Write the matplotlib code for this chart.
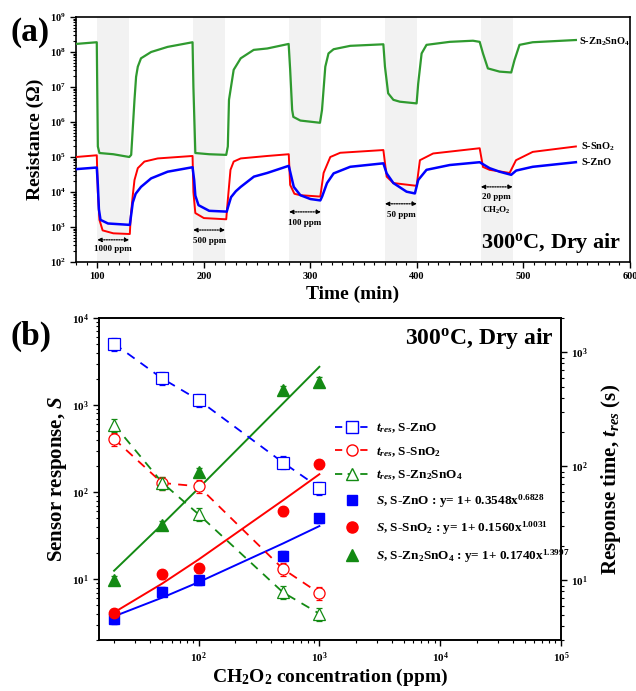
import matplotlib
matplotlib.use('Agg')
import matplotlib.pyplot as plt
import numpy as np
from matplotlib.lines import Line2D
from matplotlib.ticker import LogLocator, MultipleLocator, LogFormatterMathtext, NullFormatter

plt.rcParams['font.family'] = ['Liberation Serif', 'DejaVu Serif']
plt.rcParams['font.weight'] = 'bold'
plt.rcParams['axes.labelweight'] = 'bold'
plt.rcParams['mathtext.fontset'] = 'custom'
plt.rcParams['mathtext.rm'] = 'Liberation Serif:bold'
plt.rcParams['mathtext.it'] = 'Liberation Serif:italic:bold'
plt.rcParams['mathtext.bf'] = 'Liberation Serif:bold'

# ---- panel (a): resistance transients ----
gas_bands = [(100, 130), (190, 220), (280, 310), (370, 400), (460, 490)]
band_labels = ['1000 ppm', '500 ppm', '100 ppm', '50 ppm', '20 ppm']

t_zn2sno4 = [80, 90, 99.5, 100.5, 102, 115, 130, 131.8, 134.9, 136.4, 138, 141, 150.5, 166, 189.4,
             190.2, 192, 205, 221, 222.5, 223.6, 228, 234.6, 246.8, 259.5, 279.6,
             281, 282.9, 284, 290.6, 309, 310.9, 314, 317, 321.8, 337.4, 368.5,
             370, 373, 377.9, 384, 399.7, 401.2, 404.4, 409, 430.8, 452.6, 458.9,
             462, 466.6, 477.6, 488.5, 491.6, 496.3, 508.7, 549.2]
r_zn2sno4 = [1.7e8, 1.8e8, 1.9e8, 2.0e5, 1.3e5, 1.2e5, 1.0e5, 1.15e5, 4.3e6, 1.95e7, 3.8e7, 6.6e7, 1.0e8, 1.4e8, 1.9e8,
             1.0e7, 1.3e5, 1.2e5, 1.15e5, 2.0e5, 4.3e6, 3.1e7, 6.6e7, 1.15e8, 1.26e8, 1.7e8,
             3.2e7, 2.2e6, 1.4e6, 1.1e6, 9.5e5, 2.2e6, 3.8e7, 9.1e7, 1.2e8, 1.5e8, 1.66e8,
             3.8e7, 6.6e6, 4.3e6, 3.8e6, 3.4e6, 1.26e7, 9.1e7, 1.6e8, 1.95e8, 2.1e8, 1.95e8,
             9.1e7, 3.4e7, 2.75e7, 2.6e7, 5.9e7, 1.6e8, 1.9e8, 2.2e8]

t_sno2 = [80, 99.5, 100.5, 102, 105, 115, 130.5, 131.4, 133.3, 134.9, 138, 144.2, 156.7, 189.4,
          190.2, 192, 200, 221, 222, 225, 228, 234.6, 259.5, 279.7,
          281, 285, 290.6, 309.3, 312.4, 318.7, 328, 368.5,
          371.6, 377.9, 399.7, 402.8, 415.2, 458.9,
          462, 468.2, 487, 493, 508.7, 549.2]
r_sno2 = [1.0e5, 1.12e5, 1.0e4, 1.6e3, 800, 660, 630, 2.0e3, 8.1e3, 2.2e4, 4.8e4, 7.4e4, 9.1e4, 1.07e5,
          1.0e4, 2.5e3, 1.8e3, 1.66e3, 4.0e3, 4.3e4, 7.4e4, 9.1e4, 1.07e5, 1.2e5,
          1.6e4, 8.9e3, 8.1e3, 7.4e3, 3.5e4, 1.0e5, 1.32e5, 1.58e5,
          2.75e4, 1.8e4, 1.5e4, 8.1e4, 1.26e5, 1.78e5,
          5.2e4, 4.3e4, 3.5e4, 8.1e4, 1.4e5, 2.0e5]

t_zno = [80, 99.5, 100.5, 101.5, 103, 110, 130.5, 132, 133.3, 136, 141, 150.5, 166, 189.4,
         190.9, 192, 195, 205, 221.5, 223, 225.5, 230, 234.6, 247, 259.5, 279.7,
         284.4, 290.6, 300, 309.3, 311, 315.6, 321.8, 337.4, 368.5,
         371.6, 377.9, 390.3, 398.1, 401.2, 409, 430.8, 458.9,
         468.2, 477.6, 488.5, 493.2, 508.7, 549.2]
r_zno = [4.5e4, 5.0e4, 1.6e4, 3.2e3, 1.6e3, 1.26e3, 1.15e3, 2.5e3, 5.0e3, 8.9e3, 1.4e4, 2.45e4, 3.8e4, 5.1e4,
         2.2e4, 7.9e3, 4.2e3, 2.9e3, 2.75e3, 4.0e3, 7.1e3, 1.05e4, 1.4e4, 2.75e4, 3.5e4, 5.6e4,
         1.4e4, 8.1e3, 6.3e3, 5.75e3, 7.4e3, 1.8e4, 3.4e4, 5.25e4, 6.6e4,
         3.4e4, 1.8e4, 1.02e4, 9.1e3, 2.2e4, 4.3e4, 5.9e4, 7.1e4,
         4.8e4, 3.8e4, 3.1e4, 4.1e4, 5.25e4, 7.1e4]

# ---- panel (b): response and response time ----
conc = [20, 50, 100, 500, 1000]
s_zno = [3.5, 7.2, 9.8, 18.6, 50]
s_sno2 = [4.1, 11.5, 13.4, 61, 209]
s_zn2sno4 = [9.8, 42, 170, 1490, 1860]
fit_zno = [3.74, 6.13, 9.23, 25.7, 40.7]
fit_sno2 = [4.15, 8.9, 16.8, 80.5, 160.4]
fit_zn2sno4 = [12.5, 42.6, 110.6, 1044, 2750]
tres_zno = [1190, 590, 382, 108, 65]
tres_sno2 = [174, 71.5, 66.8, 12.6, 7.7]
tres_zn2sno4 = [232, 72, 38, 7.85, 5.1]

blue = '#0000ff'
red = '#ff0000'
green = '#138a13'
green_trace = '#2f9a2f'

fig = plt.figure(figsize=(6.36, 6.91), dpi=100)
W, H = 636, 691
ax1 = fig.add_axes([76 / W, 1 - 262 / H, (630 - 76) / W, (262 - 17) / H])

for a, b in gas_bands:
    ax1.axvspan(a, b, color='#f2f2f2', lw=0, zorder=0)

ax1.plot(t_zn2sno4, r_zn2sno4, color=green_trace, lw=1.6, zorder=3)
ax1.plot(t_sno2, r_sno2, color=red, lw=1.4, zorder=3)
ax1.plot(t_zno, r_zno, color=blue, lw=1.8, zorder=4)

ax1.set_yscale('log')
ax1.set_xlim(80, 600)
ax1.set_ylim(1e2, 1e9)
ax1.xaxis.set_major_locator(MultipleLocator(100))
ax1.xaxis.set_minor_locator(MultipleLocator(10))
ax1.yaxis.set_major_locator(LogLocator(base=10, numticks=20))
ax1.yaxis.set_minor_locator(LogLocator(base=10, subs=np.arange(2, 10), numticks=20))
ax1.yaxis.set_major_formatter(LogFormatterMathtext())
ax1.yaxis.set_minor_formatter(NullFormatter())
ax1.tick_params(axis='both', which='major', labelsize=7.5, length=4, width=1)
ax1.tick_params(axis='both', which='minor', length=2, width=0.8)
for sp in ax1.spines.values():
    sp.set_linewidth(1.2)
ax1.set_ylabel('Resistance (Ω)', fontsize=14, labelpad=4)
ax1.set_xlabel('Time (min)', fontsize=14, labelpad=3)

arrow_y = [430, 820, 2.7e3, 4.6e3, 1.4e4]
text_y = [235, 400, 1.3e3, 2.2e3, 7.2e3]
for (a, b), lab, ay, ty in zip(gas_bands, band_labels, arrow_y, text_y):
    ax1.annotate('', xy=(b, ay), xytext=(a, ay),
                 arrowprops=dict(arrowstyle='<|-|>', ls=(0, (1, 1)), lw=0.9, color='black',
                                 mutation_scale=6, shrinkA=0, shrinkB=0))
    ax1.text((a + b) / 2, ty, lab, ha='center', va='center', fontsize=6.5)
ax1.text(475, 2.9e3, r'CH$_2$O$_2$', ha='center', va='center', fontsize=6.5)

ax1.text(552, 1.95e8, r'S-Zn$_2$SnO$_4$', fontsize=7.5, va='center')
ax1.text(554, 2.0e5, r'S-SnO$_2$', fontsize=7.5, va='center')
ax1.text(554, 6.8e4, 'S-ZnO', fontsize=7.5, va='center')
ax1.text(0.985, 0.03, r'300$^{\mathrm{o}}$C, Dry air', transform=ax1.transAxes,
         ha='right', va='bottom', fontsize=16)

fig.text(10 / W, 1 - 33 / H, '(a)', fontsize=24, va='center', ha='left')
fig.text(10 / W, 1 - 336 / H, '(b)', fontsize=24, va='center', ha='left')

# ---- panel (b) ----
ax2 = fig.add_axes([99 / W, 1 - 640 / H, (561 - 99) / W, (640 - 318) / H])
ax2r = ax2.twinx()

for s, fit, c, m, ms in [(s_zno, fit_zno, blue, 's', 6.5),
                         (s_sno2, fit_sno2, red, 'o', 7.5),
                         (s_zn2sno4, fit_zn2sno4, green, '^', 8)]:
    ax2.plot(conc, fit, color=c, lw=1.4, zorder=2)
    ax2.errorbar(conc, s, yerr=[v * 0.12 for v in s], fmt=m, color=c, ms=ms,
                 capsize=2.5, elinewidth=0.8, zorder=3)

for tr, c, m in [(tres_zno, blue, 's'), (tres_sno2, red, 'o'), (tres_zn2sno4, green, '^')]:
    ax2r.plot(conc, tr, ls=(0, (5, 4)), color=c, lw=1.3, zorder=2)
    ax2r.errorbar(conc, tr, yerr=[v * 0.13 for v in tr], fmt=m, color=c, mfc='white',
                  mec=c, ms=8, mew=0.9, capsize=2.5, elinewidth=0.8, zorder=3)

ax2.set_xscale('log')
ax2.set_yscale('log')
ax2r.set_yscale('log')
ax2.set_xlim(15, 1e5)
ax2.set_ylim(2, 1e4)
ax2r.set_ylim(3, 2000)
for ax in (ax2, ax2r):
    ax.tick_params(axis='both', which='major', labelsize=8, length=4, width=1)
    ax.tick_params(axis='both', which='minor', length=2, width=0.8)
    for sp in ax.spines.values():
        sp.set_linewidth(1.2)
ax2.yaxis.set_major_formatter(LogFormatterMathtext())
ax2r.yaxis.set_major_formatter(LogFormatterMathtext())
ax2.set_xlabel(r'CH$_2$O$_2$ concentration (ppm)', fontsize=14, labelpad=1)
ax2.set_ylabel(r'Sensor response, $S$', fontsize=15, labelpad=2)
ax2r.set_ylabel(r'Response time, $t_{res}$ (s)', fontsize=15, labelpad=8)
ax2.text(0.985, 0.975, r'300$^{\mathrm{o}}$C, Dry air', transform=ax2.transAxes,
         ha='right', va='top', fontsize=17)

handles = [
    Line2D([], [], color=blue, ls=(0, (4, 3)), marker='s', mfc='white', mec=blue, ms=8, lw=1.3),
    Line2D([], [], color=red, ls=(0, (4, 3)), marker='o', mfc='white', mec=red, ms=8, lw=1.3),
    Line2D([], [], color=green, ls=(0, (4, 3)), marker='^', mfc='white', mec=green, ms=8, lw=1.3),
    Line2D([], [], color=blue, ls='none', marker='s', ms=7),
    Line2D([], [], color=red, ls='none', marker='o', ms=8),
    Line2D([], [], color=green, ls='none', marker='^', ms=8),
]
labels = [r'$t_{res}$, S-ZnO', r'$t_{res}$, S-SnO$_2$', r'$t_{res}$, S-Zn$_2$SnO$_4$',
          r'$S$, S-ZnO : y= 1+ 0.3548x$^{0.6828}$',
          r'$S$, S-SnO$_2$ : y= 1+ 0.1560x$^{1.0031}$',
          r'$S$, S-Zn$_2$SnO$_4$ : y= 1+ 0.1740x$^{1.3997}$']
ax2r.legend(handles, labels, loc='upper left', bbox_to_anchor=(0.5, 0.695), frameon=False,
            fontsize=9.5, handlelength=2.6, labelspacing=0.75, handletextpad=0.5,
            borderaxespad=0)

fig.savefig('out.png', dpi=100)
